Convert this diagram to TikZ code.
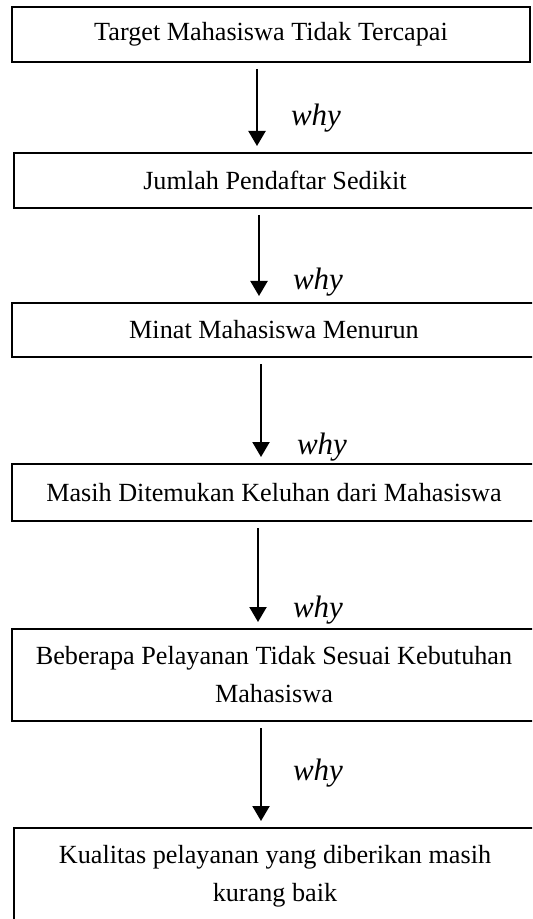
\documentclass[tikz,border=0pt]{standalone}
\usepackage{fontspec}
\setmainfont{Liberation Serif}
\usetikzlibrary{arrows.meta,positioning}
\tikzset{block/.style = {draw, rectangle, line width = 1pt, minimum width = 261pt, minimum height = 27.5pt, inner sep = 0pt, align = center, font = \fontsize{13.1}{19}\selectfont},
         ask/.style = {font = \fontsize{15.5}{18}\selectfont\itshape},
         arr/.style = {line width = 1.1pt, -{Triangle[width = 8.5pt, length = 7.5pt]}, shorten <= 3pt, shorten >= 3pt},
}

\begin{document}
\begin{tikzpicture}[x = 0.5pt, y = -0.5pt]
  \useasboundingbox (0,0) rectangle (532,919);
  \clip (0,0) rectangle (532,919);

  \node[block, minimum width = 259pt] (target) at (271,34.5) {Target Mahasiswa Tidak Tercapai};
  \node[block] (daftar) at (275,180.5) {Jumlah Pendaftar Sedikit};
  \node[block, minimum width = 262pt, minimum height = 27pt] (minat) at (274,330) {Minat Mahasiswa Menurun};
  \node[block, minimum width = 262pt, minimum height = 28.5pt] (keluhan) at (274,492.5) {Masih Ditemukan Keluhan dari Mahasiswa};
  \node[block, minimum width = 262pt, minimum height = 46pt] (layanan) at (274,675) {Beberapa Pelayanan Tidak Sesuai Kebutuhan\\Mahasiswa};
  \node[block, minimum height = 48pt] (kualitas) at (275,876) {Kualitas pelayanan yang diberikan masih\\kurang baik};

  \node[ask] (why1) at (316,118) {why};
  \node[ask] (why2) at (318,282) {why};
  \node[ask] (why3) at (322,447) {why};
  \node[ask] (why4) at (318,610) {why};
  \node[ask] (why5) at (318,773) {why};

  \draw[arr] ([xshift = -7pt]target.south) -- ([xshift = -9pt]daftar.north);
  \draw[arr] ([xshift = -8pt]daftar.south) -- ([xshift = -7.5pt]minat.north);
  \draw[arr] ([xshift = -6.5pt]minat.south) -- ([xshift = -6.5pt]keluhan.north);
  \draw[arr] ([xshift = -8pt]keluhan.south) -- ([xshift = -8pt]layanan.north);
  \draw[arr] ([xshift = -6.5pt]layanan.south) -- ([xshift = -7pt]kualitas.north);

\end{tikzpicture}
\end{document}
